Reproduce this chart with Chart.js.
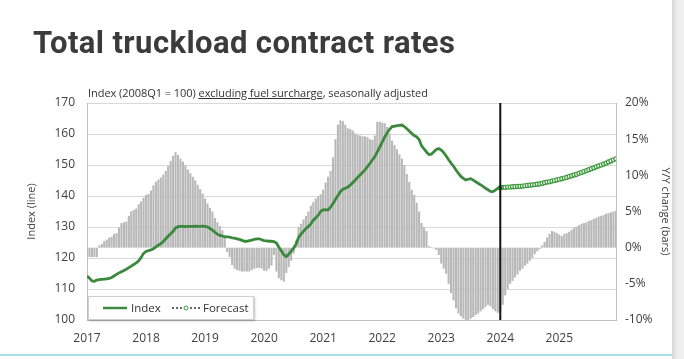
<!DOCTYPE html>
<html>
<head>
<meta charset="utf-8">
<script src="https://cdn.jsdelivr.net/npm/chart.js@4.4.1/dist/chart.umd.min.js"></script>
<style>
	html, body { margin: 0; padding: 0; background: #fff; }
	#wrap { position: relative; width: 684px; height: 359px; overflow: hidden; font-family: 'Open Sans', sans-serif; }
	#chartBox { position: absolute; left: 0; top: 0; width: 684px; height: 359px; }
	#title { position: absolute; left: 33px; top: 27px; font: 700 31px/1 Roboto, sans-serif; color: #3b3b3b; letter-spacing: 0.4px; white-space: nowrap; }
	#subtitle { position: absolute; left: 88px; top: 87px; font-size: 11px; line-height: 1; color: #333; letter-spacing: -0.05px; white-space: nowrap; }
	#subtitle u { text-underline-offset: 1px; }
	#legend { position: absolute; left: 88px; top: 296px; width: 164px; height: 22px; background: #fff; border: 1px solid #cfcfcf; box-shadow: 1px 1px 2px rgba(0,0,0,0.25); font-size: 11.5px; color: #333; }
	#legend .item { position: absolute; top: 3px; line-height: 16px; }
	#legend svg { position: absolute; }
	#edge { position: absolute; left: 672px; top: 0; width: 12px; height: 359px; background: linear-gradient(to right, #d6d6d6, #ececec 40%, #f1f1f1); }
	#baseLine { position: absolute; left: 0; top: 354px; width: 672px; height: 2px; background: #a9dbe8; }
</style>
</head>
<body>
<div id="wrap">
	<div id="chartBox"><canvas id="truckChart"></canvas></div>
	<div id="title">Total truckload contract rates</div>
	<div id="subtitle">Index (2008Q1 = 100) <u>excluding fuel surcharge</u>, seasonally adjusted</div>
	<div id="legend">
		<svg style="left:14px;top:9px" width="24" height="4"><line x1="0" y1="2" x2="24" y2="2" stroke="#3d8b40" stroke-width="2.5"/></svg>
		<span class="item" style="left:42px">Index</span>
		<svg style="left:82px;top:7px" width="30" height="8">
			<circle cx="2" cy="4" r="1" fill="#333"/><circle cx="6" cy="4" r="1" fill="#333"/><circle cx="10" cy="4" r="1" fill="#333"/>
			<circle cx="15" cy="4" r="2" fill="#fff" stroke="#3f9a3f" stroke-width="1"/>
			<circle cx="20" cy="4" r="1" fill="#333"/><circle cx="24" cy="4" r="1" fill="#333"/><circle cx="28" cy="4" r="1" fill="#333"/>
		</svg>
		<span class="item" style="left:114px">Forecast</span>
	</div>
	<div id="edge"></div>
	<div id="baseLine"></div>
</div>
<script>
// half-month periods, 2017 H1-Jan .. 2025 H2-Dec
const startYear = 2017;
const periodsPerYear = 24;
const periodCount = 216;
const periods = [];
for (let i = 0; i < periodCount; i++) periods.push(startYear + i / periodsPerYear);

const yearTicks = [2017, 2018, 2019, 2020, 2021, 2022, 2023, 2024, 2025];
const forecastStart = 2024;
const forecastStartIdx = 168;

// index (2008Q1 = 100), actual
const indexValues = [
	114.2, 113.5, 112.6, 112.5, 112.9, 113.0, 113.1, 113.2, 113.3, 113.4, 113.7, 114.2,
	114.7, 115.2, 115.6, 116.0, 116.4, 116.9, 117.4, 117.9, 118.4, 119.1, 120.2, 121.5,
	122.1, 122.4, 122.6, 123.0, 123.6, 124.1, 124.6, 125.3, 126.2, 127.0, 127.8, 128.6,
	129.7, 130.1, 130.2, 130.2, 130.1, 130.2, 130.2, 130.2, 130.3, 130.2, 130.2, 130.3,
	130.2, 130.0, 129.5, 129.0, 128.3, 127.7, 127.3, 127.1, 126.9, 126.8, 126.7, 126.5,
	126.4, 126.2, 126.0, 125.7, 125.4, 125.4, 125.6, 125.8, 126.0, 126.2, 126.2, 125.9,
	125.6, 125.5, 125.4, 125.4, 125.3, 124.8, 123.5, 122.3, 121.0, 120.4, 121.2, 122.2,
	123.2, 124.5, 126.6, 127.7, 128.6, 129.5, 130.2, 131.0, 132.2, 133.0, 133.8, 135.0,
	135.6, 135.5, 135.5, 136.4, 137.6, 138.9, 140.2, 141.4, 142.2, 142.5, 142.9, 143.5,
	144.3, 145.1, 146.0, 146.8, 147.6, 148.4, 149.5, 150.5, 151.6, 152.7, 154.2, 155.8,
	157.4, 159.0, 160.3, 161.5, 162.4, 162.5, 162.7, 162.8, 162.9, 162.4, 161.7, 161.0,
	160.2, 159.5, 159.1, 158.2, 156.2, 155.2, 154.2, 153.4, 153.5, 154.3, 155.0, 155.3,
	154.8, 154.0, 152.9, 151.7, 150.6, 149.6, 148.4, 147.3, 146.3, 145.7, 145.2, 145.4,
	145.6, 145.1, 144.6, 144.1, 143.6, 143.1, 142.5, 142.0, 141.5, 141.4, 141.9, 142.5,
	142.7, 142.8
];

// index forecast, from 2024
const forecastValues = [
	142.7, 142.8, 142.8, 142.9, 142.9, 143.0, 143.0, 143.1, 143.1, 143.2, 143.3, 143.4,
	143.5, 143.6, 143.7, 143.8, 143.9, 144.1, 144.3, 144.5, 144.6, 144.8, 145.0, 145.2,
	145.4, 145.6, 145.8, 146.0, 146.3, 146.5, 146.8, 147.0, 147.3, 147.6, 147.9, 148.2,
	148.5, 148.8, 149.1, 149.4, 149.7, 150.0, 150.3, 150.6, 151.0, 151.3, 151.7, 152.0
];

// Y/Y change, %
const yoyValues = [
	-1.3, -1.3, -1.3, -1.3, -1.3, 0.3, 0.5, 0.9, 1.1, 1.4, 1.5, 1.9,
	2.0, 2.8, 3.4, 3.5, 3.6, 4.4, 5.0, 5.2, 5.4, 6.0, 6.4, 6.9,
	7.3, 7.4, 7.9, 8.6, 9.1, 9.4, 9.7, 10.1, 10.6, 11.3, 12.0, 12.7,
	13.2, 12.8, 12.3, 11.9, 11.4, 10.8, 10.3, 9.8, 9.3, 8.7, 8.1, 7.5,
	6.8, 6.1, 5.5, 5.0, 4.1, 3.5, 3.0, 2.4, 1.6, -0.6, -1.3, -2.4,
	-2.9, -3.1, -3.2, -3.3, -3.3, -3.3, -3.3, -3.1, -2.9, -2.8, -2.8, -2.9,
	-3.2, -3.2, -2.9, -2.5, -1.0, -3.3, -4.2, -4.5, -4.7, -3.5, -2.7, -1.8,
	-0.8, 1.0, 2.8, 3.3, 3.9, 4.4, 5.0, 5.8, 6.3, 6.8, 7.1, 7.4,
	8.0, 9.0, 9.8, 10.6, 12.5, 15.0, 17.0, 17.6, 17.5, 17.0, 16.5, 16.4,
	16.2, 15.8, 15.6, 15.5, 15.4, 15.4, 15.3, 15.0, 14.9, 15.5, 17.4, 17.4,
	17.3, 17.2, 16.7, 15.8, 14.8, 14.2, 13.6, 12.9, 12.3, 11.4, 10.2, 9.1,
	8.0, 7.3, 6.2, 5.0, 3.4, 2.8, 2.3, 0.2, 0.1, -0.1, -0.3, -1.0,
	-2.2, -2.9, -3.6, -5.0, -6.3, -7.3, -8.4, -9.1, -9.5, -9.8, -10.0, -10.0,
	-9.8, -9.6, -9.3, -9.1, -8.8, -8.5, -8.2, -7.9, -8.1, -8.5, -8.8, -9.0,
	-8.8, -7.9, -6.6, -5.7, -5.0, -4.6, -4.1, -3.7, -3.2, -2.9, -2.5, -2.2,
	-1.8, -1.4, -0.9, -0.5, -0.2, 0.3, 0.8, 1.4, 1.9, 2.3, 2.2, 2.0,
	1.8, 1.6, 1.9, 2.0, 2.2, 2.5, 2.8, 2.9, 3.1, 3.3, 3.4, 3.5,
	3.7, 3.8, 4.0, 4.1, 4.3, 4.4, 4.5, 4.7, 4.8, 4.9, 5.0, 5.1
];

const tickFont = { family: 'Open Sans', size: 12 };
const textColor = '#404040';

// black vertical line where the forecast begins
const forecastLine = {
	id: 'forecastLine',
	afterDatasetsDraw(chart) {
		const { ctx, chartArea, scales } = chart;
		const x = scales.x.getPixelForValue(forecastStart);
		ctx.save();
		ctx.strokeStyle = '#111';
		ctx.lineWidth = 2;
		ctx.beginPath();
		ctx.moveTo(x, chartArea.top);
		ctx.lineTo(x, chartArea.bottom);
		ctx.stroke();
		ctx.restore();
	},
};

const ctx = document.getElementById('truckChart').getContext('2d');
new Chart(ctx, {
	type: 'bar',
	data: {
		datasets: [
			{
				type: 'line',
				label: 'Index',
				data: indexValues.map((v, i) => ({ x: periods[i], y: v })),
				yAxisID: 'y',
				borderColor: '#3a893d',
				borderWidth: 2.8,
				pointRadius: 0,
				tension: 0,
				order: 1,
			},
			{
				type: 'line',
				label: 'Forecast',
				data: forecastValues.map((v, i) => ({ x: periods[forecastStartIdx + i], y: v })),
				yAxisID: 'y',
				borderColor: '#4a9a4a',
				borderWidth: 1,
				borderDash: [1, 1],
				pointRadius: 2,
				pointBorderWidth: 1.2,
				pointBackgroundColor: '#fff',
				pointBorderColor: '#3f9a3f',
				order: 2,
			},
			{
				label: 'Y/Y change',
				data: yoyValues.map((v, i) => ({ x: periods[i], y: v })),
				yAxisID: 'y1',
				backgroundColor: '#b8b8b8',
				borderWidth: 0,
				barPercentage: 0.85,
				categoryPercentage: 1,
				order: 3,
			},
		],
	},
	options: {
		responsive: true,
		maintainAspectRatio: false,
		animation: false,
		layout: { padding: { top: 103, left: 25, right: 12, bottom: 9 } },
		plugins: {
			legend: { display: false },
			tooltip: { enabled: false },
		},
		scales: {
			x: {
				type: 'linear',
				offset: false,
				min: 2017,
				max: 2025.96,
				afterBuildTicks: (scale) => {
					scale.ticks = yearTicks.map((v) => ({ value: v }));
				},
				afterFit: (scale) => {
					scale.height = 30;
				},
				grid: { display: false, drawTicks: false, offset: false },
				border: { display: true, color: '#bfbfbf' },
				ticks: {
					font: tickFont,
					color: textColor,
					padding: 11,
					maxRotation: 0,
					autoSkip: false,
					callback: (v) => String(v),
				},
			},
			y: {
				position: 'left',
				min: 100,
				max: 170,
				afterFit: (scale) => {
					scale.width = 62;
				},
				grid: { color: '#d9d9d9', drawTicks: false },
				border: { display: true, color: '#bfbfbf' },
				ticks: { stepSize: 10, font: tickFont, color: textColor, padding: 12 },
				title: {
					display: true,
					text: 'Index (line)',
					font: { family: 'Open Sans', size: 11 },
					color: textColor,
					padding: 0,
				},
			},
			y1: {
				position: 'right',
				min: -10,
				max: 20,
				afterFit: (scale) => {
					scale.width = 56;
				},
				grid: { display: false, drawTicks: false },
				border: { display: true, color: '#bfbfbf' },
				ticks: {
					stepSize: 5,
					font: tickFont,
					color: textColor,
					padding: 9,
					callback: (v) => v + '%',
				},
				title: {
					display: true,
					text: 'Y/Y change (bars)',
					font: { family: 'Open Sans', size: 11 },
					color: textColor,
					padding: 0,
				},
			},
		},
	},
	plugins: [forecastLine],
});
</script>
</body>
</html>
